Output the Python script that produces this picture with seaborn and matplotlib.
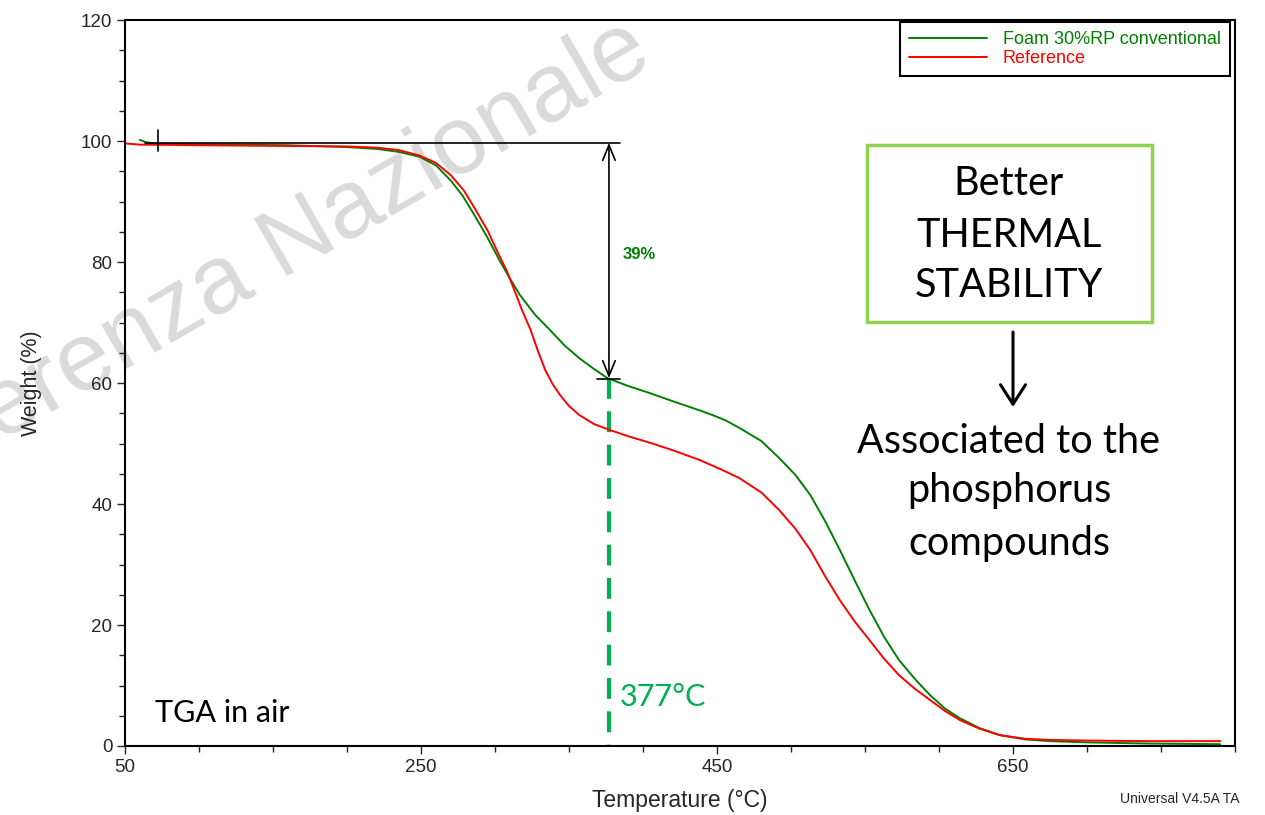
import numpy as np
import pandas as pd
import matplotlib.pyplot as plt
import seaborn as sns
from matplotlib.ticker import MultipleLocator, FixedLocator
from matplotlib.patches import Rectangle, FancyArrowPatch

# TGA curves (temperature in C, weight in %)
foam_temp = [60, 64, 70, 80, 120, 160, 200, 220, 235, 249, 260, 270, 278, 286, 295,
             303, 310, 317, 327, 337, 347, 357, 367, 376, 390, 405, 420, 438, 447,
             456, 465, 480, 492, 503, 513, 523, 533, 543, 553, 563, 573, 584, 594, 604,
             614, 627, 641, 658, 675, 700, 743, 790]
foam_weight = [100.2, 99.8, 99.6, 99.5, 99.4, 99.3, 99.0, 98.7, 98.2, 97.4, 96.0, 93.5,
               91.0, 87.8, 84.0, 80.3, 77.3, 74.5, 71.3, 68.8, 66.2, 64.1, 62.3, 60.8,
               59.5, 58.3, 57.0, 55.5, 54.7, 53.8, 52.6, 50.4, 47.6, 44.8, 41.5, 37.2,
               32.4, 27.4, 22.5, 18.0, 14.2, 11.0, 8.4, 6.2, 4.6, 3.0, 1.8, 1.1, 0.8,
               0.6, 0.4, 0.3]

ref_temp = [50, 60, 100, 150, 200, 220, 235, 249, 260, 270, 279, 286, 295, 303, 308,
            313, 318, 324, 329, 334, 339, 344, 350, 357, 367, 378, 390, 405, 420, 438,
            452, 465, 480, 492, 503, 513, 523, 533, 543, 553, 563, 573, 584, 594, 604,
            614, 627, 641, 658, 675, 700, 743, 790]
ref_weight = [99.6, 99.4, 99.3, 99.2, 99.1, 98.9, 98.5, 97.6, 96.4, 94.4, 91.8, 89.0,
              85.2, 81.0, 78.5, 75.4, 72.2, 68.8, 65.3, 62.1, 59.8, 58.0, 56.2, 54.7,
              53.2, 52.2, 51.2, 50.1, 48.9, 47.3, 45.8, 44.3, 41.9, 39.0, 35.9, 32.4,
              28.1, 24.1, 20.6, 17.5, 14.4, 11.7, 9.4, 7.6, 5.8, 4.3, 2.9, 1.8, 1.2,
              1.0, 0.9, 0.8, 0.8]

labels = ["Foam 30%RP conventional", "Reference"]
colors = {"Foam 30%RP conventional": "#008000", "Reference": "#FF0000"}

# step annotation
step_top = 99.7
step_bottom = 60.8
step_temp = 377

df = pd.concat([
    pd.DataFrame({"temp": foam_temp, "weight": foam_weight, "sample": labels[0]}),
    pd.DataFrame({"temp": ref_temp, "weight": ref_weight, "sample": labels[1]}),
])

sns.set_style("ticks")
plt.rcParams['font.family'] = ['Liberation Sans', 'DejaVu Sans']

W, H = 1265, 815
fig = plt.figure(figsize=(W / 100, H / 100), dpi=100)


def fx(px):
    return px / W


def fy(py):
    return 1 - py / H


ax = fig.add_axes([fx(125), fy(746), (1235 - 125) / W, (746 - 20) / H])
ax.set_facecolor('none')

# watermark behind the axes
fig.text(fx(655), fy(64), "Conferenza Nazionale", rotation=30, rotation_mode='anchor',
         ha='right', va='baseline', fontsize=70, color='#dadada', zorder=-5)

sns.lineplot(data=df, x="temp", y="weight", hue="sample", hue_order=labels,
             palette=colors, sort=False, estimator=None, linewidth=1.4, ax=ax)

ax.set_xlim(50, 800)
ax.set_ylim(0, 120)
ax.xaxis.set_major_locator(FixedLocator([50, 250, 450, 650]))
ax.xaxis.set_minor_locator(MultipleLocator(50))
ax.yaxis.set_major_locator(MultipleLocator(20))
ax.yaxis.set_minor_locator(MultipleLocator(5))
ax.tick_params(which='major', direction='out', length=6, width=1, labelsize=13.5, pad=3)
ax.tick_params(which='minor', direction='out', length=4, width=1)
for s in ax.spines.values():
    s.set_color('black')
    s.set_linewidth(1.5)

ax.set_xlabel("Temperature (°C)", fontsize=16.5)
ax.set_ylabel("Weight (%)", fontsize=15.5)
ax.xaxis.set_label_coords(0.5, (746 - 801) / 726)
ax.xaxis.label.set_va('center')
ax.yaxis.set_label_coords((31 - 125) / 1110, 0.5)
ax.yaxis.label.set_va('center')

handles, _ = ax.get_legend_handles_labels()
leg = ax.legend(handles, labels, loc='upper right', bbox_to_anchor=(fx(1230), fy(22)),
                bbox_transform=fig.transFigure, borderaxespad=0, fontsize=13,
                labelcolor='linecolor', handlelength=4.3, handletextpad=0.9,
                labelspacing=0.12, borderpad=0.5, fancybox=False, framealpha=1)
leg.get_frame().set_edgecolor('black')
leg.get_frame().set_linewidth(1.5)

# step-change markers
ax.plot([63.5, 384.5], [step_top, step_top], color='black', lw=1.2)
ax.plot([72, 72], [98.3, 101.8], color='black', lw=1.2)
ax.plot([368.6, 384.5], [60.6, 60.6], color='black', lw=1.2)
ax.add_patch(FancyArrowPatch((step_temp, step_top), (step_temp, step_bottom),
                             arrowstyle='<->,head_length=1.1,head_width=0.45',
                             mutation_scale=10, color='black', lw=1.2,
                             shrinkA=0, shrinkB=0))
ax.text(386, 81.2, "39%", color='#008000', fontsize=12, fontweight='bold',
        ha='left', va='center')

ax.plot([step_temp, step_temp], [step_bottom, 0], color='#00B050', lw=3,
        linestyle=(0, (5, 3)), zorder=1)
ax.text(384.5, 6.6, "377°C", color='#00B050', fontsize=22, family='Lato',
        ha='left', va='baseline')
ax.text(70, 4.0, "TGA in air", color='black', fontsize=22, family='Lato',
        ha='left', va='baseline')

# side notes
fig.add_artist(Rectangle((fx(867), fy(322)), fx(1152) - fx(867), fy(145) - fy(322),
                         fill=False, edgecolor='#92D050', lw=2.5,
                         transform=fig.transFigure))
for txt, py in [("Better", 195), ("THERMAL", 247), ("STABILITY", 297),
                ("Associated to the", 453), ("phosphorus", 502), ("compounds", 555)]:
    fig.text(fx(1009), fy(py), txt, fontsize=28.5, family='Lato', color='black',
             ha='center', va='baseline')
fig.add_artist(FancyArrowPatch((fx(1013), fy(332)), (fx(1013), fy(407)),
                               arrowstyle='->,head_length=0.7,head_width=0.45',
                               mutation_scale=20, color='black', lw=2.2,
                               transform=fig.transFigure, shrinkA=0, shrinkB=0))

fig.text(fx(1120), fy(803), "Universal V4.5A TA", fontsize=10, ha='left', va='baseline')

fig.savefig("out.png", dpi=100)
